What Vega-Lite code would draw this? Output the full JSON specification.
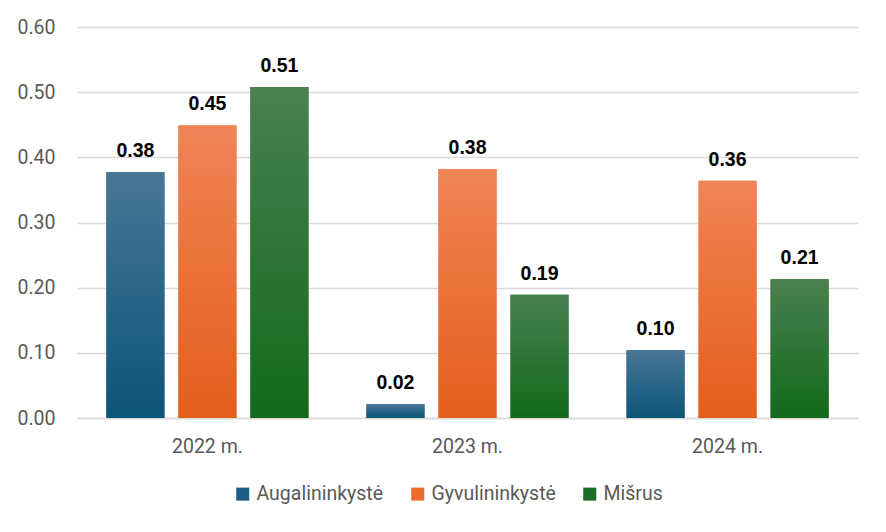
{
  "$schema": "https://vega.github.io/schema/vega-lite/v6.json",
  "width": 781,
  "height": 391,
  "padding": {"left": 16, "top": 17, "right": 28, "bottom": 10},
  "background": "white",
  "config": {
    "view": {"stroke": null},
    "font": "Roboto"
  },
  "data": {
    "values": [
      {"year": "2022 m.", "series": "Augalininkystė", "value": 0.377},
      {"year": "2022 m.", "series": "Gyvulininkystė", "value": 0.449},
      {"year": "2022 m.", "series": "Mišrus", "value": 0.508},
      {"year": "2023 m.", "series": "Augalininkystė", "value": 0.021},
      {"year": "2023 m.", "series": "Gyvulininkystė", "value": 0.382},
      {"year": "2023 m.", "series": "Mišrus", "value": 0.189},
      {"year": "2024 m.", "series": "Augalininkystė", "value": 0.104},
      {"year": "2024 m.", "series": "Gyvulininkystė", "value": 0.364},
      {"year": "2024 m.", "series": "Mišrus", "value": 0.213}
    ]
  },
  "encoding": {
    "x": {
      "field": "year", "type": "nominal", "title": null,
      "scale": {"paddingInner": 0.223, "paddingOuter": 0.113},
      "axis": {"labelAngle": 0, "labelFontSize": 19.5, "labelColor": "#595959", "labelPadding": 19, "ticks": false, "domainColor": "#d9d9d9", "domainWidth": 1.5, "labelFont": "Roboto"}
    },
    "xOffset": {"field": "series", "type": "nominal", "scale": {"paddingInner": 0.194, "paddingOuter": 0}},
    "y": {
      "field": "value", "type": "quantitative", "title": null,
      "scale": {"domain": [0, 0.6]},
      "axis": {"values": [0, 0.1, 0.2, 0.3, 0.4, 0.5, 0.6], "format": ".2f", "labelFontSize": 19.5, "labelColor": "#595959", "labelPadding": 22, "ticks": false, "domain": false, "gridColor": "#d9d9d9", "gridWidth": 1.3, "labelFont": "Roboto"}
    }
  },
  "layer": [
    {
      "mark": {"type": "bar"},
      "encoding": {
        "color": {
          "field": "series", "type": "nominal",
          "scale": {"domain": ["Augalininkystė", "Gyvulininkystė", "Mišrus"], "range": ["#1b5e84", "#ee6a2a", "#1a6e25"]},
          "legend": {"orient": "none", "legendX": 156, "legendY": 457, "direction": "horizontal", "title": null, "symbolType": "square", "symbolSize": 170, "labelFontSize": 19.5, "labelColor": "#595959", "columnPadding": 24, "labelOffset": 4, "labelFont": "Roboto", "symbolStrokeWidth": 0}
        }
      }
    },
    {
      "mark": {"type": "bar"},
      "encoding": {
        "fill": {
          "condition": [
            {"test": "datum.series === 'Augalininkystė'", "value": {"gradient": "linear", "x1": 0, "y1": 0, "x2": 0, "y2": 1, "stops": [{"offset": 0, "color": "#4a7696"}, {"offset": 1, "color": "#0a5577"}]}},
            {"test": "datum.series === 'Gyvulininkystė'", "value": {"gradient": "linear", "x1": 0, "y1": 0, "x2": 0, "y2": 1, "stops": [{"offset": 0, "color": "#f08456"}, {"offset": 1, "color": "#e45e1b"}]}}
          ],
          "value": {"gradient": "linear", "x1": 0, "y1": 0, "x2": 0, "y2": 1, "stops": [{"offset": 0, "color": "#4a8050"}, {"offset": 1, "color": "#126a1b"}]}
        }
      }
    },
    {
      "mark": {"type": "text", "dy": -21, "fontSize": 19.5, "fontWeight": "bold", "color": "#000000", "font": "Liberation Sans"},
      "encoding": {
        "text": {"field": "value", "type": "quantitative", "format": ".2f"}
      }
    }
  ]
}
